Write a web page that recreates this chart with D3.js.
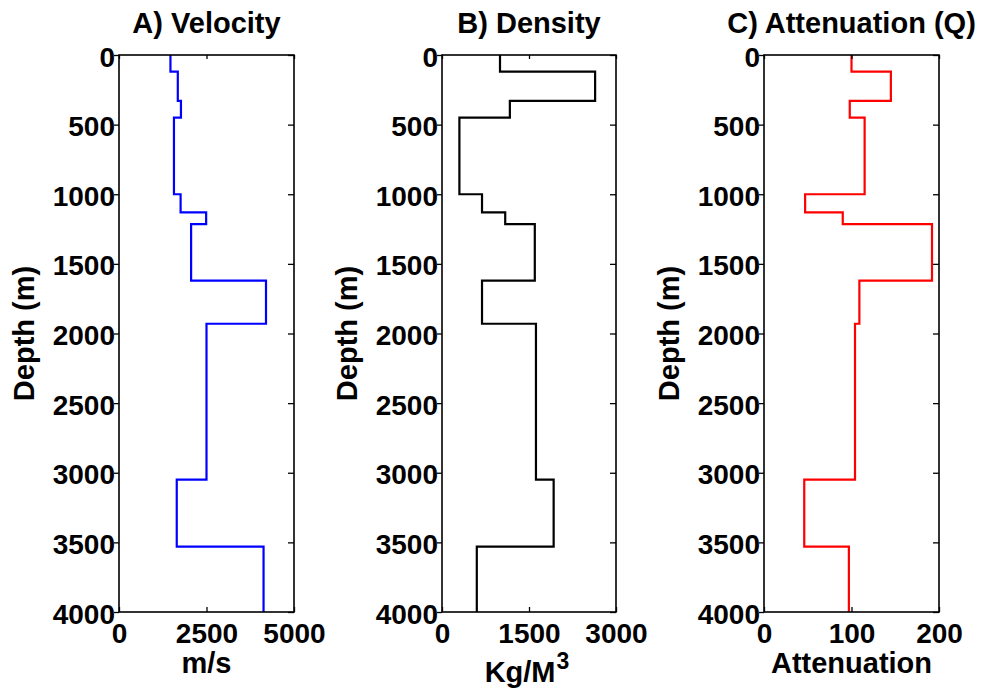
<!DOCTYPE html>
<html>
<head>
<meta charset="utf-8">
<script src="https://cdn.jsdelivr.net/npm/d3@7"></script>
<style>
  html, body { margin: 0; padding: 0; background: #fff; }
  svg text { font-family: "Liberation Sans", Arial, Helvetica, sans-serif; font-weight: bold; fill: #000; }
</style>
</head>
<body>
<svg id="chart" width="987" height="694"></svg>
<script>
// Layer tops (m); the last layer runs down to maxDepth
const layerTops = [0, 120, 330, 450, 1000, 1130, 1215, 1620, 1930, 3050, 3530];
const maxDepth = 4000;
const depthTicks = [0, 500, 1000, 1500, 2000, 2500, 3000, 3500, 4000];

// Interval properties per layer
const velocity    = [1470, 1680, 1770, 1570, 1760, 2490, 2060, 4200, 2500, 1650, 4130];
const density     = [1000, 2640, 1170, 300, 690, 1090, 1600, 690, 1620, 1925, 600];
const attenuation = [100, 145, 98, 115, 47, 90, 192, 109, 104, 46, 97];

const velocityTicks = [0, 2500, 5000];
const densityTicks = [0, 1500, 3000];
const attenuationTicks = [0, 100, 200];

const panels = [
  { title: "A) Velocity", xlabel: ["m/s"], values: velocity, domain: [0, 5000], ticks: velocityTicks, color: "#0000ff", left: 119, right: 294 },
  { title: "B) Density", xlabel: ["Kg/M", "3"], values: density, domain: [0, 3000], ticks: densityTicks, color: "#000000", left: 442, right: 616 },
  { title: "C) Attenuation (Q)", xlabel: ["Attenuation"], values: attenuation, domain: [0, 200], ticks: attenuationTicks, color: "#ff0000", left: 764, right: 939 }
];

const plotTop = 55, plotBottom = 612;
const svg = d3.select("#chart");

panels.forEach(p => {
  const x = d3.scaleLinear().domain(p.domain).range([p.left, p.right]);
  const y = d3.scaleLinear().domain([0, maxDepth]).range([plotTop, plotBottom]);
  const g = svg.append("g");

  // Step profile: vertical run through each layer, horizontal jump at each boundary
  const pts = [];
  p.values.forEach((v, i) => {
    const d0 = layerTops[i];
    const d1 = i + 1 < layerTops.length ? layerTops[i + 1] : maxDepth;
    pts.push([v, d0], [v, d1]);
  });
  const line = d3.line().x(d => x(d[0])).y(d => y(d[1]));
  g.append("path")
    .attr("d", line(pts))
    .attr("fill", "none")
    .attr("stroke", p.color)
    .attr("stroke-width", 2.2)
    .attr("stroke-linejoin", "miter");

  // Left axis: outward ticks with labels
  const yLeft = d3.axisLeft(y).tickValues(depthTicks).tickSize(5).tickPadding(4).tickFormat(d3.format("d"));
  const gl = g.append("g").attr("transform", `translate(${p.left},0)`).call(yLeft);
  // Right axis: inward ticks, no labels
  const yRight = d3.axisRight(y).tickValues(depthTicks).tickSize(-6).tickFormat("");
  const gr = g.append("g").attr("transform", `translate(${p.right},0)`).call(yRight);
  // Bottom axis: inward ticks with labels
  const xBottom = d3.axisBottom(x).tickValues(p.ticks).tickSize(-5).tickPadding(0).tickFormat(d3.format("d"));
  const gb = g.append("g").attr("transform", `translate(0,${plotBottom})`).call(xBottom);
  // Top axis: inward ticks, no labels
  const xTop = d3.axisTop(x).tickValues(p.ticks).tickSize(-4).tickFormat("");
  const gt = g.append("g").attr("transform", `translate(0,${plotTop})`).call(xTop);

  [gl, gr, gb, gt].forEach(a => {
    a.select(".domain").remove();
    a.selectAll(".tick line").attr("stroke", "#000").attr("stroke-width", 1.3);
  });

  gl.selectAll(".tick text")
    .attr("font-size", 28).attr("dy", null).attr("y", 11).attr("x", -4);
  gb.selectAll(".tick text")
    .attr("font-size", 28).attr("dy", null).attr("y", 31);

  // Box frame
  g.append("rect")
    .attr("x", p.left).attr("y", plotTop)
    .attr("width", p.right - p.left).attr("height", plotBottom - plotTop)
    .attr("fill", "none").attr("stroke", "#000").attr("stroke-width", 1.6);

  const cx = (p.left + p.right) / 2;

  // Title
  g.append("text").attr("x", cx).attr("y", 33)
    .attr("text-anchor", "middle").attr("font-size", 29).text(p.title);

  // X label (with optional superscript)
  const xl = g.append("text").attr("x", cx - (p.xlabel.length > 1 ? 2 : 0))
    .attr("y", p.xlabel.length > 1 ? 682 : 673)
    .attr("text-anchor", "middle").attr("font-size", 29);
  xl.append("tspan").text(p.xlabel[0]);
  if (p.xlabel.length > 1) {
    xl.append("tspan").attr("font-size", 23).attr("dy", -13).attr("dx", 1).text(p.xlabel[1]);
  }

  // Y label
  g.append("text")
    .attr("transform", `translate(${p.left - 85},${(plotTop + plotBottom) / 2}) rotate(-90)`)
    .attr("text-anchor", "middle").attr("font-size", 29).text("Depth (m)");
});
</script>
</body>
</html>
